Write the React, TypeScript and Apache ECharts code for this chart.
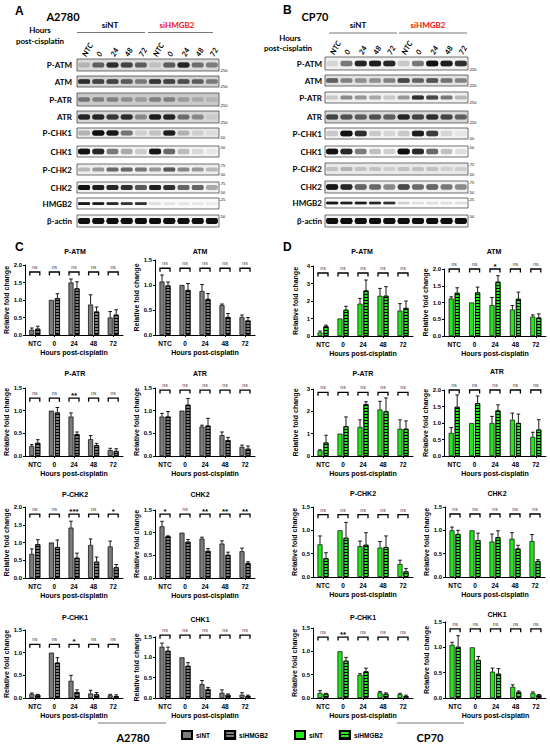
import React, { useEffect, useRef } from "react";
import * as echarts from "echarts";

// ---------------- DATA ----------------
const laneLabels = ["NTC", "0", "24", "48", "72", "NTC", "0", "24", "48", "72"];
const blotRows = ["P-ATM", "ATM", "P-ATR", "ATR", "P-CHK1", "CHK1", "P-CHK2", "CHK2", "HMGB2", "β-actin"];
const markerLabels = [["-250"], ["-250"], ["-250"], ["-250"], ["-50"], ["-50"], ["-75", "-50"], ["-75", "-50"], ["-25"], ["-50"]];

// band intensities (0 = no band, 1 = black), lanes: siNT NTC,0,24,48,72 | siHMGB2 NTC,0,24,48,72
const blotA = [
  [0.15, 0.45, 0.7, 0.6, 0.45, 0.1, 0.5, 0.75, 0.4, 0.35],
  [0.7, 0.6, 0.6, 0.5, 0.35, 0.65, 0.6, 0.55, 0.45, 0.35],
  [0.35, 0.3, 0.3, 0.25, 0.2, 0.3, 0.3, 0.2, 0.15, 0.1],
  [0.75, 0.75, 0.65, 0.7, 0.3, 0.8, 0.75, 0.4, 0.3, 0.05],
  [0.2, 0.95, 0.85, 0.4, 0.1, 0.15, 0.8, 0.2, 0.1, 0.05],
  [0.9, 0.75, 0.4, 0.25, 0.15, 0.85, 0.45, 0.2, 0.1, 0.05],
  [0.2, 0.3, 0.45, 0.45, 0.4, 0.3, 0.55, 0.35, 0.3, 0.2],
  [0.9, 0.8, 0.75, 0.7, 0.55, 0.8, 0.7, 0.5, 0.5, 0.25],
  [0.85, 0.8, 0.75, 0.7, 0.7, 0.1, 0.08, 0.08, 0.08, 0.06],
  [0.95, 0.95, 0.95, 0.95, 0.95, 0.95, 0.95, 0.95, 0.92, 0.97],
];
const blotB = [
  [0.1, 0.4, 0.75, 0.8, 0.75, 0.15, 0.4, 0.9, 0.8, 0.7],
  [0.5, 0.35, 0.3, 0.3, 0.35, 0.6, 0.45, 0.55, 0.4, 0.35],
  [0.15, 0.35, 0.3, 0.25, 0.15, 0.3, 0.7, 0.6, 0.4, 0.2],
  [0.6, 0.55, 0.5, 0.55, 0.5, 0.75, 0.6, 0.7, 0.6, 0.45],
  [0.15, 0.9, 0.7, 0.15, 0.1, 0.15, 0.8, 0.65, 0.1, 0.05],
  [0.9, 0.75, 0.4, 0.2, 0.15, 0.95, 0.75, 0.5, 0.2, 0.1],
  [0.15, 0.2, 0.15, 0.15, 0.1, 0.15, 0.15, 0.15, 0.1, 0.1],
  [0.85, 0.75, 0.5, 0.45, 0.35, 0.6, 0.45, 0.5, 0.4, 0.35],
  [0.85, 0.8, 0.8, 0.75, 0.7, 0.15, 0.1, 0.1, 0.1, 0.1],
  [0.95, 0.95, 0.95, 0.95, 0.95, 0.95, 0.95, 0.95, 0.95, 0.97],
];

const timepoints = ["NTC", "0", "24", "48", "72"];
const groupNames = ["siNT", "siHMGB2"];

// ---- Panel C (A2780) ----
const cPATM_nt = [0.15, 1.0, 1.5, 0.87, 0.5];
const cPATM_ntErr = [0.05, 0, 0.1, 0.28, 0.17];
const cPATM_kd = [0.18, 1.05, 1.33, 0.67, 0.58];
const cPATM_kdErr = [0.07, 0.13, 0.19, 0.13, 0.14];
const cPATM_sig = ["ns", "ns", "ns", "ns", "ns"];

const cATM_nt = [1.07, 1.0, 0.88, 0.6, 0.36];
const cATM_ntErr = [0.13, 0, 0.13, 0.02, 0.04];
const cATM_kd = [0.99, 0.9, 0.72, 0.36, 0.29];
const cATM_kdErr = [0.07, 0.13, 0.11, 0.07, 0.06];
const cATM_sig = ["ns", "ns", "ns", "ns", "ns"];

const cPATR_nt = [0.22, 1.0, 0.87, 0.37, 0.13];
const cPATR_ntErr = [0.03, 0, 0.08, 0.08, 0.04];
const cPATR_kd = [0.29, 0.96, 0.48, 0.24, 0.11];
const cPATR_kdErr = [0.07, 0.11, 0.05, 0.04, 0.05];
const cPATR_sig = ["ns", "ns", "**", "ns", "ns"];

const cATR_nt = [0.87, 1.0, 0.65, 0.46, 0.2];
const cATR_ntErr = [0.07, 0, 0.03, 0.07, 0.04];
const cATR_kd = [0.87, 1.13, 0.67, 0.35, 0.16];
const cATR_kdErr = [0.11, 0.14, 0.16, 0.06, 0.06];
const cATR_sig = ["ns", "ns", "ns", "ns", "ns"];

const cPCHK2_nt = [0.68, 1.0, 1.42, 0.93, 0.89];
const cPCHK2_ntErr = [0.14, 0, 0.18, 0.17, 0.15];
const cPCHK2_kd = [0.95, 0.87, 0.57, 0.46, 0.3];
const cPCHK2_kdErr = [0.13, 0.2, 0.13, 0.13, 0.08];
const cPCHK2_sig = ["ns", "ns", "***", "ns", "*"];

const cCHK2_nt = [1.14, 1.0, 0.87, 0.76, 0.59];
const cCHK2_ntErr = [0.11, 0, 0.03, 0.06, 0.07];
const cCHK2_kd = [0.92, 0.8, 0.6, 0.51, 0.33];
const cCHK2_kdErr = [0.01, 0.05, 0.05, 0.06, 0.03];
const cCHK2_sig = ["*", "ns", "**", "**", "**"];

const cPCHK1_nt = [0.09, 1.0, 0.38, 0.1, 0.06];
const cPCHK1_ntErr = [0.02, 0, 0.12, 0.07, 0.02];
const cPCHK1_kd = [0.07, 0.78, 0.13, 0.08, 0.04];
const cPCHK1_kdErr = [0.01, 0.11, 0.05, 0.04, 0.03];
const cPCHK1_sig = ["ns", "ns", "*", "ns", "ns"];

const cCHK1_nt = [1.26, 1.0, 0.34, 0.13, 0.08];
const cCHK1_ntErr = [0.09, 0, 0.09, 0.07, 0.05];
const cCHK1_kd = [1.16, 0.79, 0.22, 0.08, 0.05];
const cCHK1_kdErr = [0.09, 0.08, 0.04, 0.02, 0.02];
const cCHK1_sig = ["ns", "ns", "ns", "ns", "ns"];

// ---- Panel D (CP70) ----
const dPATM_nt = [0.2, 1.0, 1.85, 2.3, 1.45];
const dPATM_ntErr = [0.08, 0, 0.3, 0.42, 0.4];
const dPATM_kd = [0.55, 1.5, 2.6, 2.3, 1.6];
const dPATM_kdErr = [0.07, 0.2, 0.6, 0.52, 0.4];
const dPATM_sig = ["ns", "ns", "ns", "ns", "ns"];

const dATM_nt = [1.12, 1.0, 0.92, 0.79, 0.58];
const dATM_ntErr = [0.05, 0, 0.23, 0.12, 0.05];
const dATM_kd = [1.29, 1.3, 1.62, 1.11, 0.55];
const dATM_kdErr = [0.15, 0.16, 0.18, 0.2, 0.11];
const dATM_sig = ["ns", "ns", "*", "ns", "ns"];

const dPATR_nt = [0.25, 1.0, 1.3, 2.08, 1.22];
const dPATR_ntErr = [0.03, 0, 0.32, 0.37, 0.4];
const dPATR_kd = [0.6, 1.33, 2.32, 2.0, 1.22];
const dPATR_kdErr = [0.33, 0.42, 0.11, 0.6, 0.35];
const dPATR_sig = ["ns", "ns", "ns", "ns", "ns"];

const dATR_nt = [0.7, 1.0, 1.0, 1.1, 0.58];
const dATR_ntErr = [0.16, 0, 0.2, 0.2, 0.14];
const dATR_kd = [1.49, 1.6, 1.38, 1.0, 0.8];
const dATR_kdErr = [0.36, 0.22, 0.17, 0.27, 0.3];
const dATR_sig = ["ns", "ns", "ns", "ns", "ns"];

const dPCHK2_nt = [0.7, 1.0, 0.66, 0.63, 0.28];
const dPCHK2_ntErr = [0.18, 0, 0.11, 0.13, 0.08];
const dPCHK2_kd = [0.4, 0.84, 0.69, 0.64, 0.12];
const dPCHK2_kdErr = [0.12, 0.33, 0.26, 0.24, 0.06];
const dPCHK2_sig = ["ns", "ns", "ns", "ns", "ns"];

const dCHK2_nt = [1.0, 1.0, 0.76, 0.82, 0.77];
const dCHK2_ntErr = [0.07, 0, 0.16, 0.13, 0.14];
const dCHK2_kd = [0.92, 0.79, 0.85, 0.61, 0.34];
const dCHK2_kdErr = [0.08, 0.15, 0.14, 0.07, 0.03];
const dCHK2_sig = ["ns", "ns", "ns", "ns", "ns"];

const dPCHK1_nt = [0.11, 1.0, 0.5, 0.12, 0.08];
const dPCHK1_ntErr = [0.05, 0, 0.02, 0.02, 0.02];
const dPCHK1_kd = [0.09, 0.8, 0.57, 0.09, 0.04];
const dPCHK1_kdErr = [0.01, 0.07, 0.07, 0.02, 0.02];
const dPCHK1_sig = ["ns", "**", "ns", "ns", "ns"];

const dCHK1_nt = [1.05, 1.0, 0.52, 0.22, 0.1];
const dCHK1_ntErr = [0.05, 0, 0.07, 0.04, 0.02];
const dCHK1_kd = [1.01, 0.75, 0.48, 0.12, 0.06];
const dCHK1_kdErr = [0.22, 0.07, 0.1, 0.02, 0.01];
const dCHK1_sig = ["ns", "ns", "ns", "ns", "ns"];

// ---------------- STYLE / LAYOUT ----------------
const FONT = "'Liberation Sans', Arial, sans-serif";
const BFONT = "Lato, 'Open Sans', sans-serif";
const GREEN = "#22e81a";
const GREY = "#7c7c7c";

type Spec = { title: string; nt: number[]; ntErr: number[]; kd: number[]; kdErr: number[]; sig: string[]; max: number; interval: number; dec: number };
type Lay = { l: number; t: number; w: number; h: number; br: number; tx: number; ty: number };

const chartsC: Spec[] = [
  { title: "P-ATM", nt: cPATM_nt, ntErr: cPATM_ntErr, kd: cPATM_kd, kdErr: cPATM_kdErr, sig: cPATM_sig, max: 2, interval: 0.5, dec: 1 },
  { title: "ATM", nt: cATM_nt, ntErr: cATM_ntErr, kd: cATM_kd, kdErr: cATM_kdErr, sig: cATM_sig, max: 1.5, interval: 0.5, dec: 1 },
  { title: "P-ATR", nt: cPATR_nt, ntErr: cPATR_ntErr, kd: cPATR_kd, kdErr: cPATR_kdErr, sig: cPATR_sig, max: 1.5, interval: 0.5, dec: 1 },
  { title: "ATR", nt: cATR_nt, ntErr: cATR_ntErr, kd: cATR_kd, kdErr: cATR_kdErr, sig: cATR_sig, max: 1.5, interval: 0.5, dec: 1 },
  { title: "P-CHK2", nt: cPCHK2_nt, ntErr: cPCHK2_ntErr, kd: cPCHK2_kd, kdErr: cPCHK2_kdErr, sig: cPCHK2_sig, max: 2, interval: 0.5, dec: 1 },
  { title: "CHK2", nt: cCHK2_nt, ntErr: cCHK2_ntErr, kd: cCHK2_kd, kdErr: cCHK2_kdErr, sig: cCHK2_sig, max: 1.5, interval: 0.5, dec: 1 },
  { title: "P-CHK1", nt: cPCHK1_nt, ntErr: cPCHK1_ntErr, kd: cPCHK1_kd, kdErr: cPCHK1_kdErr, sig: cPCHK1_sig, max: 1.5, interval: 0.5, dec: 1 },
  { title: "CHK1", nt: cCHK1_nt, ntErr: cCHK1_ntErr, kd: cCHK1_kd, kdErr: cCHK1_kdErr, sig: cCHK1_sig, max: 1.5, interval: 0.5, dec: 1 },
];
const chartsD: Spec[] = [
  { title: "P-ATM", nt: dPATM_nt, ntErr: dPATM_ntErr, kd: dPATM_kd, kdErr: dPATM_kdErr, sig: dPATM_sig, max: 4, interval: 1, dec: 0 },
  { title: "ATM", nt: dATM_nt, ntErr: dATM_ntErr, kd: dATM_kd, kdErr: dATM_kdErr, sig: dATM_sig, max: 2, interval: 0.5, dec: 1 },
  { title: "P-ATR", nt: dPATR_nt, ntErr: dPATR_ntErr, kd: dPATR_kd, kdErr: dPATR_kdErr, sig: dPATR_sig, max: 3, interval: 1, dec: 0 },
  { title: "ATR", nt: dATR_nt, ntErr: dATR_ntErr, kd: dATR_kd, kdErr: dATR_kdErr, sig: dATR_sig, max: 2, interval: 0.5, dec: 1 },
  { title: "P-CHK2", nt: dPCHK2_nt, ntErr: dPCHK2_ntErr, kd: dPCHK2_kd, kdErr: dPCHK2_kdErr, sig: dPCHK2_sig, max: 1.5, interval: 0.5, dec: 1 },
  { title: "CHK2", nt: dCHK2_nt, ntErr: dCHK2_ntErr, kd: dCHK2_kd, kdErr: dCHK2_kdErr, sig: dCHK2_sig, max: 1.5, interval: 0.5, dec: 1 },
  { title: "P-CHK1", nt: dPCHK1_nt, ntErr: dPCHK1_ntErr, kd: dPCHK1_kd, kdErr: dPCHK1_kdErr, sig: dPCHK1_sig, max: 1.5, interval: 0.5, dec: 1 },
  { title: "CHK1", nt: dCHK1_nt, ntErr: dCHK1_ntErr, kd: dCHK1_kd, kdErr: dCHK1_kdErr, sig: dCHK1_sig, max: 1.5, interval: 0.5, dec: 1 },
];

const layC: Lay[] = [
  { l: 25, t: 265, w: 98, h: 70, br: 0.9, tx: 75, ty: 251 },
  { l: 155, t: 260, w: 100, h: 75, br: 0.89, tx: 200, ty: 251 },
  { l: 25, t: 388, w: 98, h: 68, br: 0.85, tx: 75, ty: 373 },
  { l: 155, t: 388, w: 100, h: 68, br: 0.97, tx: 200, ty: 373 },
  { l: 25, t: 507, w: 98, h: 71, br: 0.9, tx: 75, ty: 494 },
  { l: 155, t: 510, w: 100, h: 68, br: 0.94, tx: 200, ty: 494 },
  { l: 25, t: 630, w: 98, h: 68, br: 0.79, tx: 75, ty: 617 },
  { l: 155, t: 637, w: 100, h: 61, br: 1.03, tx: 200, ty: 619 },
];
const layD: Lay[] = [
  { l: 313, t: 266, w: 100, h: 70, br: 0.9, tx: 362, ty: 251 },
  { l: 444, t: 269, w: 102, h: 67, br: 1.0, tx: 494, ty: 251 },
  { l: 313, t: 389, w: 100, h: 67, br: 0.95, tx: 363, ty: 373 },
  { l: 444, t: 390, w: 102, h: 66, br: 1.0, tx: 497, ty: 371 },
  { l: 313, t: 507, w: 100, h: 70, br: 0.89, tx: 363, ty: 493 },
  { l: 445, t: 507, w: 100, h: 70, br: 0.9, tx: 497, ty: 493 },
  { l: 313, t: 628, w: 100, h: 70, br: 0.87, tx: 363, ty: 617 },
  { l: 445, t: 622, w: 101, h: 76, br: 0.91, tx: 497, ty: 614 },
];

const blotLayA = { x: 77, w: 142, labelGap: 5, tops: [59, 76, 93, 111, 128, 146, 164, 182, 198, 215], hs: [12, 11, 13, 12, 10, 11, 11, 11, 11, 12],
  bg: ["#d9d9d9", "#d2d2d2", "#cacaca", "#d6d6d6", "#e8e8e8", "#f4f4f4", "#eeeeee", "#f2f2f2", "#fafafa", "#f4f4f4"] };
const blotLayB = { x: 325, w: 143, labelGap: 3, tops: [57, 75, 92, 111, 128, 146, 163, 181, 198, 215], hs: [13, 11, 11, 12, 11, 11, 12, 12, 10, 12],
  bg: ["#f0f0f0", "#e2e2e2", "#f0f0f0", "#d8d8d8", "#f2f2f2", "#fafafa", "#e8e8e8", "#f0f0f0", "#fafafa", "#f4f4f4"] };
const bandFrac = [0.42, 0.42, 0.35, 0.42, 0.5, 0.5, 0.35, 0.45, 0.25, 0.5];
const markerSides = [["b"], ["b"], ["b"], ["b"], ["b"], ["t"], ["t", "b"], ["t", "b"], ["t"], ["t"]];

function txt(text: string, x: number, y: number, size: number, opts: any = {}) {
  const align = opts.align || "center";
  const va = opts.va || "middle";
  return {
    type: "text", x, y, silent: true, rotation: opts.rotation || 0,
    style: {
      text, fill: opts.color || "#000", fontSize: size, fontWeight: opts.weight || "bold",
      fontStyle: opts.style || "normal", fontFamily: opts.family || FONT,
      align, verticalAlign: va, textAlign: align, textVerticalAlign: va,
    },
  };
}

function buildOption() {
  const grid: any[] = [], xAxis: any[] = [], yAxis: any[] = [], series: any[] = [], graphic: any[] = [];
  let gi = 0;

  const addBlot = (intens: number[][], lay: any) => {
    intens.forEach((row, r) => {
      const top = lay.tops[r], h = lay.hs[r];
      grid.push({ left: lay.x, top, width: lay.w, height: h, show: true, backgroundColor: lay.bg[r], borderColor: "#333", borderWidth: 0.7 });
      xAxis.push({
        gridIndex: gi, type: "category", data: laneLabels.map((_, i) => String(i)), position: "top", show: r === 0,
        axisLine: { show: false }, axisTick: { show: false }, splitLine: { show: false },
        axisLabel: { show: true, interval: 0, rotate: 60, margin: 3, fontSize: 7.5, fontStyle: "italic", fontWeight: "bold", fontFamily: BFONT, color: "#000", formatter: (_v: string, i: number) => laneLabels[i] },
      });
      yAxis.push({
        gridIndex: gi, type: "value", min: 0, max: 1, show: true,
        axisLine: { show: false }, axisTick: { show: false }, axisLabel: { show: false }, splitLine: { show: false },
        name: blotRows[r], nameLocation: "middle", nameRotate: 0, nameGap: lay.labelGap,
        nameTextStyle: { fontSize: 8, fontWeight: "bold", fontFamily: BFONT, color: "#000", align: "right", verticalAlign: "middle" },
      });
      const frac = bandFrac[r];
      series.push({
        type: "custom", xAxisIndex: gi, yAxisIndex: gi, silent: true,
        data: row.map((v, i) => [i, v]),
        renderItem: (params: any, api: any) => {
          const c = api.coord([api.value(0), 0.5]);
          const cw = api.size([1, 0])[0];
          const bh = params.coordSys.height * frac;
          const v = api.value(1);
          const col = `rgba(12,12,12,${v})`;
          return {
            type: "rect",
            shape: { x: c[0] - cw * 0.42, y: c[1] - bh / 2, width: cw * 0.84, height: bh, r: bh / 2.5 },
            style: { fill: col, shadowBlur: 1.5, shadowColor: col },
          };
        },
      });
      markerLabels[r].forEach((m, k) => {
        const side = markerSides[r][k];
        graphic.push(txt(m, lay.x + lay.w + 0.5, side === "t" ? top + 1 : top + h - 1, 4, { align: "left", weight: "normal" }));
      });
      gi++;
    });
  };
  addBlot(blotA, blotLayA);
  addBlot(blotB, blotLayB);

  const errItem = (offset: number) => (_p: any, api: any) => {
    const i = api.value(0), m = api.value(1), e = api.value(2);
    if (!e) return null;
    const p0 = api.coord([i, m]);
    const p1 = api.coord([i, m + e]);
    const x = p0[0] + offset;
    return {
      type: "group",
      children: [
        { type: "line", shape: { x1: x, y1: p0[1], x2: x, y2: p1[1] }, style: { stroke: "#000", lineWidth: 0.9 } },
        { type: "line", shape: { x1: x - 1.8, y1: p1[1], x2: x + 1.8, y2: p1[1] }, style: { stroke: "#000", lineWidth: 0.9 } },
      ],
    };
  };
  const sigItem = (labels: string[]) => (p: any, api: any) => {
    const c = api.coord([api.value(0), api.value(1)]);
    const s = labels[p.dataIndex];
    const star = s !== "ns";
    return {
      type: "group",
      children: [
        { type: "polyline", shape: { points: [[c[0] - 5, c[1] + 3.5], [c[0] - 5, c[1]], [c[0] + 5, c[1]], [c[0] + 5, c[1] + 3.5]] }, style: { stroke: "#000", lineWidth: 1.3, fill: null } },
        {
          type: "text", x: c[0], y: star ? c[1] - 2.5 : c[1] - 5,
          style: { text: s, fill: star ? "#000" : "#333", fontSize: star ? 8 : 5, fontWeight: star ? "bold" : "normal", fontFamily: FONT, align: "center", verticalAlign: "middle", textAlign: "center", textVerticalAlign: "middle" },
        },
      ],
    };
  };

  const addCharts = (specs: Spec[], lays: Lay[], color: string, ntName: string, kdName: string) => {
    specs.forEach((s, k) => {
      const L = lays[k];
      grid.push({ left: L.l, top: L.t, width: L.w, height: L.h });
      xAxis.push({
        gridIndex: gi, type: "category", data: timepoints,
        axisLine: { lineStyle: { color: "#000", width: 1 } },
        axisTick: { show: true, alignWithLabel: true, length: 2, lineStyle: { color: "#000" } },
        axisLabel: { interval: 0, margin: 5, fontSize: 6.5, fontWeight: "bold", fontFamily: FONT, color: "#000" },
        name: "Hours post-cisplatin", nameLocation: "middle", nameGap: 14,
        nameTextStyle: { fontSize: 7, fontWeight: "bold", fontFamily: FONT, color: "#000" },
      });
      yAxis.push({
        gridIndex: gi, type: "value", min: 0, max: s.max, interval: s.interval,
        axisLine: { show: true, lineStyle: { color: "#000", width: 1 } },
        axisTick: { show: true, length: 2, lineStyle: { color: "#000" } },
        splitLine: { show: false },
        axisLabel: { margin: 3, fontSize: 6, fontWeight: "bold", fontFamily: FONT, color: "#000", formatter: (v: number) => v.toFixed(s.dec) },
        name: "Relative fold change", nameLocation: "middle", nameGap: 14,
        nameTextStyle: { fontSize: 7, fontWeight: "bold", fontFamily: FONT, color: "#000" },
      });
      series.push({
        type: "bar", name: ntName, xAxisIndex: gi, yAxisIndex: gi, data: s.nt, barWidth: 5, barGap: "20%",
        itemStyle: { color, borderColor: "#000", borderWidth: 0.7 },
      });
      series.push({
        type: "bar", name: kdName, xAxisIndex: gi, yAxisIndex: gi, data: s.kd, barWidth: 5, barGap: "20%",
        itemStyle: {
          color, borderColor: "#000", borderWidth: 0.7,
          decal: { symbol: "rect", symbolSize: 1, color: "#000", dashArrayX: [1, 0], dashArrayY: [1, 1.5], rotation: 0 },
        },
      });
      series.push({ type: "custom", xAxisIndex: gi, yAxisIndex: gi, z: 5, silent: true, clip: false, data: s.nt.map((v, i) => [i, v, s.ntErr[i]]), renderItem: errItem(-3) });
      series.push({ type: "custom", xAxisIndex: gi, yAxisIndex: gi, z: 5, silent: true, clip: false, data: s.kd.map((v, i) => [i, v, s.kdErr[i]]), renderItem: errItem(3) });
      series.push({ type: "custom", xAxisIndex: gi, yAxisIndex: gi, z: 6, silent: true, clip: false, data: timepoints.map((_, i) => [i, L.br * s.max]), renderItem: sigItem(s.sig) });
      graphic.push(txt(s.title, L.tx, L.ty, 7));
      gi++;
    });
  };
  addCharts(chartsC, layC, GREY, groupNames[0], groupNames[1]);
  addCharts(chartsD, layD, GREEN, groupNames[0] + " ", groupNames[1] + " ");

  // panel annotations
  graphic.push(txt("A", 15, 5, 12, { align: "left", va: "top" }));
  graphic.push(txt("B", 283, 4, 12, { align: "left", va: "top" }));
  graphic.push(txt("C", 15, 241, 12, { align: "left", va: "top" }));
  graphic.push(txt("D", 283, 241, 12, { align: "left", va: "top" }));
  graphic.push(txt("A2780", 63, 16, 11, { family: BFONT }));
  graphic.push(txt("CP70", 315, 16, 11, { family: BFONT }));
  graphic.push(txt("Hours", 40, 30, 8, { family: BFONT }));
  graphic.push(txt("post-cisplatin", 40, 41, 8, { family: BFONT }));
  graphic.push(txt("Hours", 290, 38, 8, { family: BFONT }));
  graphic.push(txt("post-cisplatin", 288, 48, 8, { family: BFONT }));
  graphic.push(txt("siNT", 110, 25, 8, { family: BFONT }));
  graphic.push(txt("siHMGB2", 177, 25, 8, { family: BFONT, color: "#ee1111" }));
  graphic.push(txt("siNT", 358, 25, 8, { family: BFONT }));
  graphic.push(txt("siHMGB2", 428, 25, 8, { family: BFONT, color: "#ee1111" }));
  const hl = (x1: number, x2: number, y: number) => ({ type: "line", silent: true, shape: { x1, y1: y, x2, y2: y }, style: { stroke: "#777", lineWidth: 1 } });
  graphic.push(hl(77, 145, 32.5), hl(148, 213, 32.5), hl(329, 397, 33), hl(399, 467, 33));
  graphic.push(hl(98, 166, 723), hl(397, 464, 723));
  graphic.push(txt("A2780", 133, 737, 11, { family: BFONT }));
  graphic.push(txt("CP70", 430, 737, 11, { family: BFONT }));

  const legendBase = {
    itemWidth: 10, itemHeight: 8, itemGap: 14, icon: "rect", selectedMode: false, padding: 0, orient: "horizontal",
    textStyle: { fontSize: 6.5, fontWeight: "bold", fontFamily: FONT, color: "#000", padding: [0, 0, 0, -1] },
  };

  return {
    animation: false,
    backgroundColor: "#fff",
    grid, xAxis, yAxis, series, graphic,
    legend: [
      { ...legendBase, data: [groupNames[0], groupNames[1]], left: 181, top: 730 },
      { ...legendBase, data: [groupNames[0] + " ", groupNames[1] + " "], left: 294, top: 730 },
    ],
  };
}

export default function App() {
  const ref = useRef<HTMLDivElement>(null);
  useEffect(() => {
    if (!ref.current) return;
    const chart = echarts.init(ref.current, null, { renderer: "svg" });
    chart.setOption(buildOption() as any);
    return () => chart.dispose();
  }, []);
  return <div ref={ref} style={{ position: "fixed", left: 0, top: 0, width: 550, height: 745, background: "#fff" }} />;
}
